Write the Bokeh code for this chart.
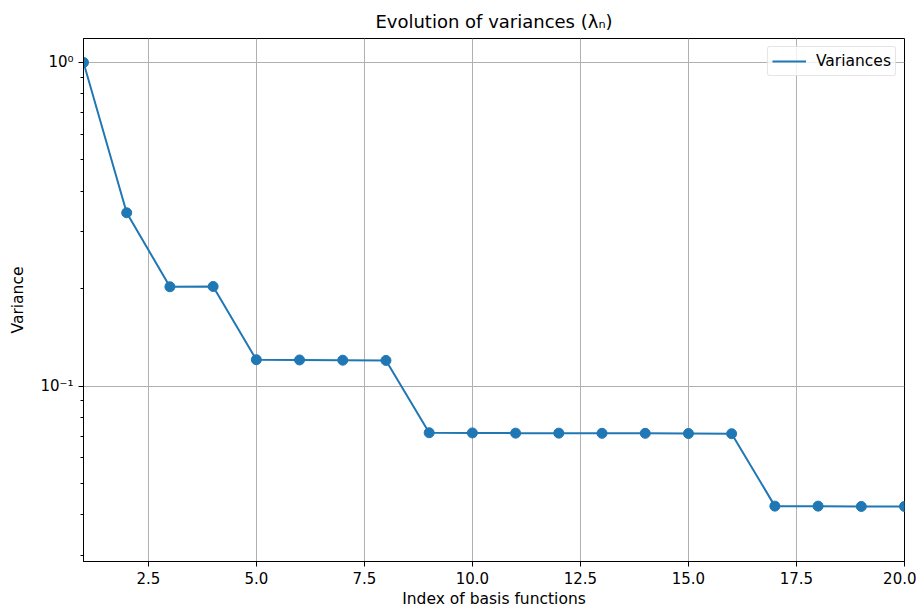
from bokeh.plotting import figure
from bokeh.models import Range1d, FixedTicker, CustomJSTickFormatter, NumeralTickFormatter, Legend, LegendItem
from bokeh.embed import file_html
from bokeh.resources import INLINE

# data
index = list(range(1, 21))
variances = [1.0, 0.3433, 0.2028, 0.2032,
             0.1207, 0.1205, 0.1203, 0.1201,
             0.0718, 0.0717, 0.0716, 0.0716, 0.0715, 0.0715, 0.0714, 0.0713,
             0.0426, 0.0426, 0.0425, 0.0425]
x_ticks = [2.5, 5.0, 7.5, 10.0, 12.5, 15.0, 17.5, 20.0]
y_ticks = [0.1, 1.0]

FONT = "DejaVu Sans"
BLUE = "#1f77b4"

p = figure(width=916, height=610, y_axis_type="log",
           x_range=Range1d(1, 20), y_range=Range1d(0.02873, 1.186),
           output_backend="svg", toolbar_location=None,
           min_border_left=83, min_border_right=12, min_border_top=38, min_border_bottom=49)

p.title.text = "Evolution of variances (λₙ)"
p.title.align = "center"
p.title.text_font = FONT
p.title.text_font_size = "18px"
p.title.text_font_style = "normal"
p.title.text_color = "black"
p.title.offset = 0
p.title.standoff = 14

p.outline_line_color = "black"
p.outline_line_width = 1

xt = FixedTicker(ticks=x_ticks, minor_ticks=[])
p.xaxis.ticker = xt
p.xaxis.formatter = NumeralTickFormatter(format="0.0")
minor = [k * 0.01 for k in range(2, 10)] + [k * 0.1 for k in range(2, 10)]
p.yaxis.ticker = FixedTicker(ticks=y_ticks, minor_ticks=minor)
p.yaxis.formatter = CustomJSTickFormatter(code="""
const e = Math.round(Math.log10(tick));
const sup = {'-':'⁻','0':'⁰','1':'¹','2':'²','3':'³','4':'⁴','5':'⁵','6':'⁶','7':'⁷','8':'⁸','9':'⁹'};
return '10' + String(e).split('').map(c => sup[c]).join('');
""")

for ax in (p.xaxis[0], p.yaxis[0]):
    ax.axis_line_color = "black"
    ax.major_tick_line_color = "black"
    ax.minor_tick_line_color = "black"
    ax.major_tick_out = 5
    ax.major_tick_in = 0
    ax.minor_tick_out = 3
    ax.minor_tick_in = 0
    ax.major_label_text_font = FONT
    ax.major_label_text_font_size = "15px"
    ax.major_label_text_color = "black"
    ax.axis_label_text_font = FONT
    ax.axis_label_text_font_size = "15.5px"
    ax.axis_label_text_font_style = "normal"
    ax.axis_label_text_color = "black"

p.xaxis.axis_label = "Index of basis functions"
p.yaxis.axis_label = "Variance"
p.xaxis.major_label_standoff = 5
p.xaxis.axis_label_standoff = 3
p.yaxis.major_label_standoff = 5
p.yaxis.axis_label_standoff = 10

p.xgrid.grid_line_color = "#b0b0b0"
p.ygrid.grid_line_color = "#b0b0b0"
p.xgrid.grid_line_width = 1
p.ygrid.grid_line_width = 1

line = p.line(index, variances, line_color=BLUE, line_width=2)
p.scatter(index, variances, size=10, fill_color=BLUE, line_color=BLUE)

legend = Legend(items=[LegendItem(label="Variances", renderers=[line])],
                location="top_right")
legend.label_text_font = FONT
legend.label_text_font_size = "15.5px"
legend.label_text_color = "black"
legend.border_line_color = "#cccccc"
legend.border_line_width = 1
legend.border_radius = 3
legend.background_fill_alpha = 0.8
legend.margin = 8
legend.padding = 4
legend.glyph_width = 34
legend.label_standoff = 10
legend.spacing = 0
p.add_layout(legend)

open("out.html", "w").write(file_html(p, INLINE))
